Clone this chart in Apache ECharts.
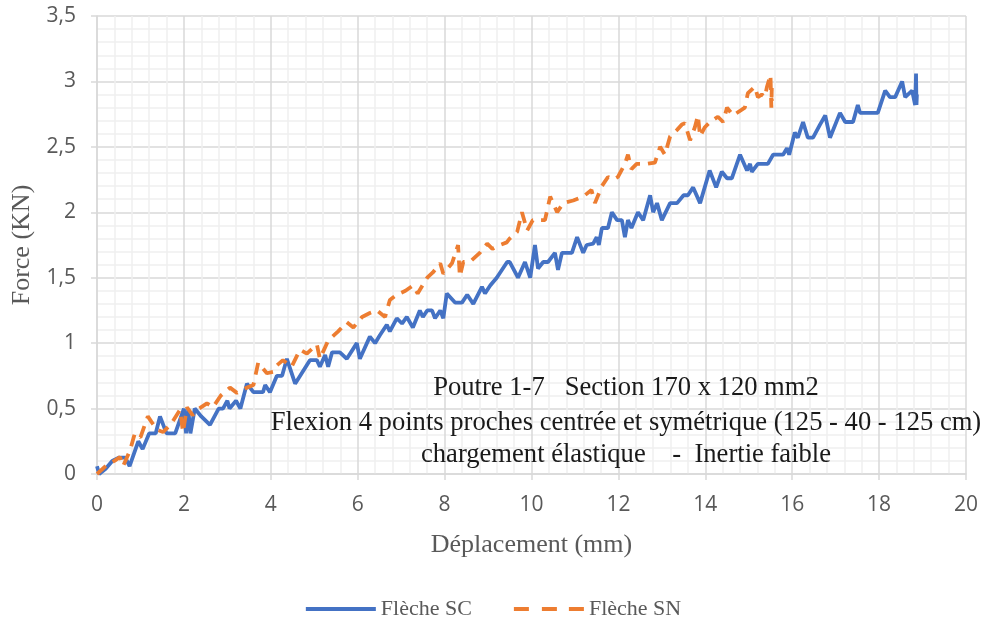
<!DOCTYPE html>
<html>
<head>
<meta charset="utf-8">
<script src="https://cdn.jsdelivr.net/npm/echarts@6/dist/echarts.min.js"></script>
<style>html,body{margin:0;padding:0;background:#fff}#c{width:987px;height:626px}</style>
</head>
<body>
<div id="c"></div>
<script>
const seriesNames = ['Flèche SC', 'Flèche SN'];
const xTicks = [0, 2, 4, 6, 8, 10, 12, 14, 16, 18, 20];
const yTicks = [0, 0.5, 1, 1.5, 2, 2.5, 3, 3.5];
const noteLines = [
  'Poutre 1-7   Section 170 x 120 mm2',
  'Flexion 4 points proches centrée et symétrique (125 - 40 - 125 cm)',
  'chargement élastique    -  Inertie faible'
];
const flecheSC = [[0,0.06],[0.05,0.0],[0.2,0.04],[0.35,0.1],[0.5,0.125],[0.65,0.125],[0.75,0.06],[0.95,0.25],[1.05,0.19],[1.2,0.31],[1.35,0.31],[1.45,0.44],[1.6,0.31],[1.8,0.31],[2.0,0.5],[2.05,0.31],[2.1,0.5],[2.15,0.31],[2.25,0.5],[2.4,0.44],[2.6,0.375],[2.8,0.5],[2.9,0.5],[3.0,0.56],[3.05,0.5],[3.2,0.56],[3.3,0.5],[3.45,0.69],[3.6,0.625],[3.82,0.625],[3.87,0.68],[3.98,0.625],[4.14,0.75],[4.26,0.75],[4.37,0.88],[4.56,0.69],[4.9,0.87],[5.06,0.87],[5.13,0.82],[5.25,0.91],[5.32,0.82],[5.41,0.93],[5.59,0.93],[5.75,0.88],[5.98,1.0],[6.05,0.88],[6.28,1.05],[6.4,1.0],[6.51,1.06],[6.67,1.14],[6.74,1.09],[6.9,1.19],[7.02,1.15],[7.13,1.2],[7.27,1.12],[7.43,1.25],[7.5,1.2],[7.6,1.25],[7.71,1.25],[7.78,1.19],[7.9,1.25],[7.97,1.19],[8.05,1.38],[8.24,1.31],[8.4,1.31],[8.52,1.37],[8.66,1.3],[8.86,1.43],[8.93,1.38],[9.05,1.44],[9.2,1.5],[9.44,1.62],[9.5,1.62],[9.69,1.5],[9.85,1.62],[9.97,1.5],[10.08,1.75],[10.15,1.57],[10.27,1.62],[10.38,1.62],[10.54,1.69],[10.61,1.56],[10.7,1.69],[10.93,1.69],[11.05,1.81],[11.19,1.69],[11.27,1.75],[11.42,1.76],[11.5,1.81],[11.55,1.75],[11.62,1.88],[11.76,1.88],[11.85,2.0],[11.97,1.94],[12.08,1.94],[12.15,1.81],[12.22,1.94],[12.3,1.88],[12.45,2.0],[12.57,1.94],[12.73,2.13],[12.8,2.0],[12.89,2.07],[13.0,1.94],[13.19,2.07],[13.35,2.07],[13.5,2.13],[13.6,2.13],[13.72,2.19],[13.88,2.07],[14.1,2.32],[14.25,2.19],[14.38,2.31],[14.5,2.26],[14.61,2.26],[14.8,2.44],[14.96,2.32],[15.03,2.37],[15.07,2.31],[15.21,2.37],[15.44,2.37],[15.56,2.44],[15.79,2.44],[15.88,2.49],[15.93,2.44],[16.06,2.61],[16.13,2.57],[16.25,2.69],[16.36,2.57],[16.48,2.57],[16.64,2.67],[16.76,2.74],[16.87,2.57],[17.1,2.76],[17.22,2.69],[17.4,2.69],[17.51,2.82],[17.56,2.76],[17.97,2.76],[18.14,2.93],[18.25,2.88],[18.37,2.88],[18.53,3.0],[18.6,2.88],[18.76,2.93],[18.83,2.82],[18.85,3.06],[18.86,2.82],[18.87,2.9]];
const flecheSN = [[0,0],[0.23,0.07],[0.4,0.1],[0.53,0.13],[0.6,0.06],[0.76,0.18],[0.87,0.31],[1.0,0.28],[1.17,0.44],[1.25,0.4],[1.38,0.34],[1.52,0.32],[1.7,0.38],[1.91,0.49],[1.98,0.32],[2.07,0.51],[2.2,0.45],[2.35,0.5],[2.53,0.54],[2.67,0.51],[2.85,0.6],[3.06,0.66],[3.22,0.62],[3.45,0.66],[3.6,0.68],[3.71,0.85],[3.91,0.77],[4.05,0.78],[4.14,0.83],[4.28,0.87],[4.48,0.82],[4.67,0.95],[4.83,0.92],[5.06,0.99],[5.13,0.88],[5.32,1.02],[5.55,1.09],[5.75,1.16],[5.9,1.12],[6.1,1.2],[6.28,1.23],[6.44,1.25],[6.63,1.2],[6.74,1.33],[6.9,1.37],[7.1,1.4],[7.27,1.44],[7.38,1.38],[7.6,1.5],[7.73,1.54],[7.9,1.61],[7.97,1.53],[8.17,1.61],[8.31,1.75],[8.35,1.51],[8.43,1.62],[8.58,1.62],[8.81,1.69],[8.98,1.76],[9.1,1.72],[9.27,1.75],[9.43,1.77],[9.5,1.8],[9.67,1.85],[9.78,2.0],[9.9,1.86],[10.03,1.94],[10.31,1.94],[10.43,2.12],[10.59,2.0],[10.73,2.07],[10.96,2.09],[11.19,2.12],[11.38,2.17],[11.46,2.07],[11.62,2.2],[11.76,2.27],[11.88,2.25],[11.99,2.27],[12.15,2.37],[12.22,2.44],[12.3,2.33],[12.42,2.37],[12.66,2.37],[12.84,2.38],[12.96,2.5],[13.07,2.44],[13.19,2.58],[13.35,2.63],[13.46,2.67],[13.53,2.68],[13.65,2.55],[13.76,2.65],[13.83,2.74],[13.88,2.58],[13.99,2.65],[14.11,2.69],[14.29,2.73],[14.41,2.69],[14.5,2.8],[14.64,2.74],[14.91,2.8],[14.98,2.91],[15.14,2.96],[15.21,2.88],[15.3,2.9],[15.37,2.88],[15.42,2.96],[15.5,3.05],[15.52,2.8],[15.53,2.95],[15.53,2.85]];

const chart = echarts.init(document.getElementById('c'), null, {renderer: 'canvas'});
const gray = '#595959';
const serif = '"Liberation Serif", "Times New Roman", serif';
const sans = '"Open Sans", "Noto Sans", sans-serif';
chart.setOption({
  animation: false,
  backgroundColor: '#fff',
  grid: {left: 97, right: 21, top: 16, bottom: 152, containLabel: false},
  legend: {
    bottom: 1, left: 'center', itemWidth: 70, itemHeight: 4, itemGap: 42,
    textStyle: {fontFamily: serif, fontSize: 22, color: gray},
    data: [
      {name: seriesNames[0], icon: 'path://M0,0H70V4H0Z', itemStyle: {color: '#4472C4'}},
      {name: seriesNames[1], icon: 'path://M0,0H15V4H0ZM28,0H43V4H28ZM55,0H70V4H55Z', itemStyle: {color: '#ED7D31'}}
    ]
  },
  xAxis: {
    type: 'value', min: xTicks[0], max: xTicks[xTicks.length - 1], interval: 2,
    name: 'Déplacement (mm)', nameLocation: 'middle', nameGap: 58,
    nameTextStyle: {fontFamily: serif, fontSize: 26, color: gray},
    axisLine: {show: true, onZero: false, lineStyle: {color: '#d9d9d9', width: 1.5}},
    axisTick: {show: true, length: 6, lineStyle: {color: '#d9d9d9', width: 1.5}},
    axisLabel: {fontFamily: sans, fontSize: 21, color: gray, margin: 21},
    splitLine: {show: true, lineStyle: {color: '#d9d9d9', width: 1.5}},
    minorTick: {show: false, splitNumber: 5},
    minorSplitLine: {show: true, lineStyle: {color: '#f0f0f0', width: 1.5}}
  },
  yAxis: {
    type: 'value', min: yTicks[0], max: yTicks[yTicks.length - 1], interval: 0.5,
    name: 'Force (KN)', nameLocation: 'middle', nameGap: 57, nameRotate: 90,
    nameTextStyle: {fontFamily: serif, fontSize: 26, color: gray},
    axisLine: {show: true, lineStyle: {color: '#d9d9d9', width: 1.5}},
    axisTick: {show: true, length: 6, lineStyle: {color: '#d9d9d9', width: 1.5}},
    axisLabel: {fontFamily: sans, fontSize: 21, color: gray, margin: 21,
      formatter: v => String(v).replace('.', ',')},
    splitLine: {show: true, lineStyle: {color: '#d9d9d9', width: 1.5}},
    minorTick: {show: false, splitNumber: 5},
    minorSplitLine: {show: true, lineStyle: {color: '#f0f0f0', width: 1.5}}
  },
  series: [
    {name: seriesNames[0], type: 'line', data: flecheSC, showSymbol: false, symbol: 'none',
     color: '#4472C4', lineStyle: {color: '#4472C4', width: 3.8}, z: 3},
    {name: seriesNames[1], type: 'line', data: flecheSN, showSymbol: false, symbol: 'none',
     color: '#ED7D31', lineStyle: {color: '#ED7D31', width: 3.8, type: [12, 8]}, z: 4}
  ],
  graphic: noteLines.map((t, i) => ({
    type: 'text', x: 626, y: [388, 423, 455][i], z: 10,
    style: {text: t, fontFamily: serif, fontSize: 26.6, fill: '#1a1a1a',
      textAlign: 'center', textVerticalAlign: 'middle'}
  }))
});
</script>
</body>
</html>
